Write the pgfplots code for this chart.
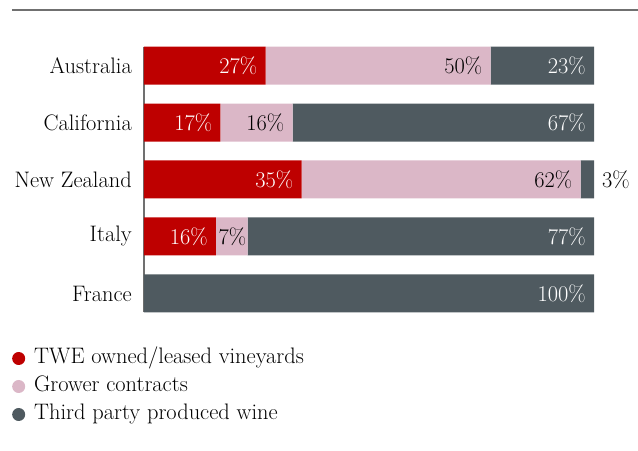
\documentclass[border=0pt]{standalone}
\usepackage{pgfplots}
\pgfplotsset{compat=1.18}
\definecolor{twred}{HTML}{BE0000}
\definecolor{twpink}{HTML}{DBB7C7}
\definecolor{twdark}{HTML}{4F5A60}
\definecolor{lgray}{HTML}{707070}
\begin{document}
\begin{tikzpicture}[font=\fontsize{22.5}{26}\selectfont,
  lw/.style={anchor=east, inner sep=0pt, xshift=-8bp, text=white},
  lb/.style={anchor=east, inner sep=0pt, xshift=-8bp, text=black}]
\begin{axis}[
  xbar stacked, bar width=38bp,
  scale only axis, width=450bp, height=265bp,
  xmin=0, xmax=100, ymin=-0.325, ymax=4.325,
  axis x line=none, axis y line*=left,
  axis line style={-, color=lgray, line width=1.5bp},
  ytick={0,1,2,3,4},
  yticklabels={France,Italy,New Zealand,California,Australia},
  major tick length=0pt,
  yticklabel style={inner sep=0pt, xshift=-12bp, text=black},
  clip=false,
  legend cell align=left,
  legend style={at={(-0.30,-0.12)}, anchor=north west, draw=none, fill=none,
    row sep=3bp, column sep=7bp,
    nodes={inner sep=2bp, text height=16bp, text depth=5bp, text=black},
    font=\fontsize{22.5}{26}\selectfont},
]
\addplot[fill=twred, draw=none,
  legend image code/.code={\fill[twred] (0bp,0bp) circle (6.5bp);}]
  coordinates {(0,0) (16,1) (35,2) (17,3) (27,4)};
\addlegendentry{TWE owned/leased vineyards}
\addplot[fill=twpink, draw=none,
  legend image code/.code={\fill[twpink] (0bp,0bp) circle (6.5bp);}]
  coordinates {(0,0) (7,1) (62,2) (16,3) (50,4)};
\addlegendentry{Grower contracts}
\addplot[fill=twdark, draw=none,
  legend image code/.code={\fill[twdark] (0bp,0bp) circle (6.5bp);}]
  coordinates {(100,0) (77,1) (3,2) (67,3) (23,4)};
\addlegendentry{Third party produced wine}
% label anchor coordinates (segment ends)
\coordinate (a1) at (axis cs:27,4);
\coordinate (a2) at (axis cs:77,4);
\coordinate (a3) at (axis cs:100,4);
\coordinate (c1) at (axis cs:17,3);
\coordinate (c2) at (axis cs:33,3);
\coordinate (c3) at (axis cs:100,3);
\coordinate (n1) at (axis cs:35,2);
\coordinate (n2) at (axis cs:97,2);
\coordinate (n3) at (axis cs:100,2);
\coordinate (i1) at (axis cs:16,1);
\coordinate (i2) at (axis cs:23,1);
\coordinate (i3) at (axis cs:100,1);
\coordinate (f3) at (axis cs:100,0);
\draw[lgray, line width=1.2bp] ([xshift=-132bp,yshift=37bp]rel axis cs:0,1) -- ([xshift=44bp,yshift=37bp]rel axis cs:1,1);
\coordinate (O) at (rel axis cs:0,0);
\end{axis}
\node[lw] at (a1) {27\%};
\node[lb] at (a2) {50\%};
\node[lw] at (a3) {23\%};
\node[lw] at (c1) {17\%};
\node[lb] at (c2) {16\%};
\node[lw] at (c3) {67\%};
\node[lw] at (n1) {35\%};
\node[lb] at (n2) {62\%};
\node[anchor=west, inner sep=0pt, xshift=8bp] at (n3) {3\%};
\node[lw] at (i1) {16\%};
\node[lb, xshift=7bp] at (i2) {7\%};
\node[lw] at (i3) {77\%};
\node[lw] at (f3) {100\%};
\pgfresetboundingbox
\path ([xshift=-144bp,yshift=-139bp]O) rectangle ([xshift=494bp,yshift=312bp]O);
\end{tikzpicture}
\end{document}
